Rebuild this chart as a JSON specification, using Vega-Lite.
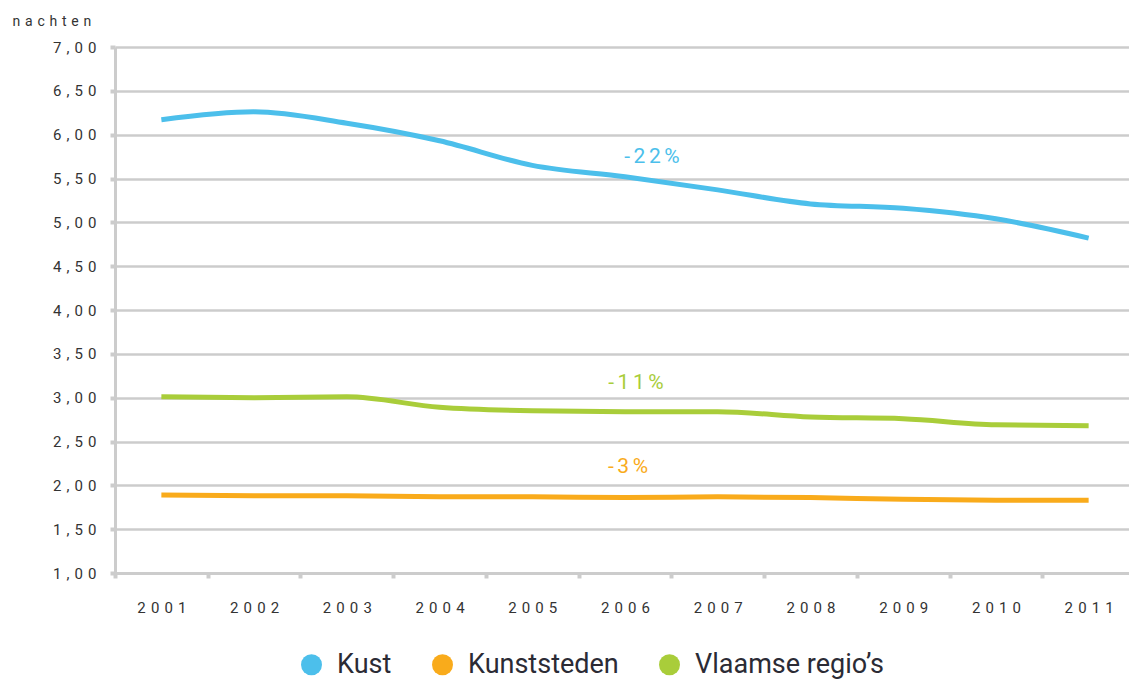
{
  "$schema": "https://vega.github.io/schema/vega-lite/v6.json",
  "width": 1020,
  "height": 526,
  "autosize": {"type": "none"},
  "padding": {"left": 115, "top": 47, "right": 0, "bottom": 106},
  "background": "white",
  "config": {"font": "Roboto", "view": {"stroke": null}},
  "datasets": {
    "series": [
      {"year": "2001", "region": "Kust", "value": 6.17},
      {"year": "2002", "region": "Kust", "value": 6.26},
      {"year": "2003", "region": "Kust", "value": 6.13},
      {"year": "2004", "region": "Kust", "value": 5.93},
      {"year": "2005", "region": "Kust", "value": 5.65},
      {"year": "2006", "region": "Kust", "value": 5.52},
      {"year": "2007", "region": "Kust", "value": 5.37},
      {"year": "2008", "region": "Kust", "value": 5.21},
      {"year": "2009", "region": "Kust", "value": 5.16},
      {"year": "2010", "region": "Kust", "value": 5.04},
      {"year": "2011", "region": "Kust", "value": 4.82},
      {"year": "2001", "region": "Kunststeden", "value": 1.89},
      {"year": "2002", "region": "Kunststeden", "value": 1.88},
      {"year": "2003", "region": "Kunststeden", "value": 1.88},
      {"year": "2004", "region": "Kunststeden", "value": 1.87},
      {"year": "2005", "region": "Kunststeden", "value": 1.87},
      {"year": "2006", "region": "Kunststeden", "value": 1.86},
      {"year": "2007", "region": "Kunststeden", "value": 1.87},
      {"year": "2008", "region": "Kunststeden", "value": 1.86},
      {"year": "2009", "region": "Kunststeden", "value": 1.84},
      {"year": "2010", "region": "Kunststeden", "value": 1.83},
      {"year": "2011", "region": "Kunststeden", "value": 1.83},
      {"year": "2001", "region": "Vlaamse regio’s", "value": 3.01},
      {"year": "2002", "region": "Vlaamse regio’s", "value": 3.0},
      {"year": "2003", "region": "Vlaamse regio’s", "value": 3.01},
      {"year": "2004", "region": "Vlaamse regio’s", "value": 2.89},
      {"year": "2005", "region": "Vlaamse regio’s", "value": 2.85},
      {"year": "2006", "region": "Vlaamse regio’s", "value": 2.84},
      {"year": "2007", "region": "Vlaamse regio’s", "value": 2.84},
      {"year": "2008", "region": "Vlaamse regio’s", "value": 2.78},
      {"year": "2009", "region": "Vlaamse regio’s", "value": 2.76},
      {"year": "2010", "region": "Vlaamse regio’s", "value": 2.69},
      {"year": "2011", "region": "Vlaamse regio’s", "value": 2.68}
    ],
    "labels": [
      {"year": "2006", "region": "Kust", "value": 5.745, "label": "-22%"},
      {"year": "2006", "region": "Vlaamse regio’s", "value": 3.17, "label": "-11%"},
      {"year": "2006", "region": "Kunststeden", "value": 2.21, "label": "-3%"}
    ]
  },
  "encoding": {
    "x": {
      "field": "year",
      "type": "ordinal",
      "scale": {"type": "band", "paddingInner": 0, "paddingOuter": 0},
      "axis": {
        "title": null,
        "labelExpr": "join(split(datum.label, ''), '\u2004')",
        "labelAngle": 0,
        "tickBand": "extent",
        "domain": true,
        "domainColor": "#cccccc",
        "domainWidth": 3,
        "ticks": true,
        "tickColor": "#cccccc",
        "tickWidth": 4,
        "tickSize": 5,
        "labelFontSize": 15,
        "labelColor": "#333333",
        "labelPadding": 22,
        "grid": false
      }
    },
    "y": {
      "field": "value",
      "type": "quantitative",
      "scale": {"domain": [1, 7], "nice": false, "zero": false},
      "axis": {
        "values": [1, 1.5, 2, 2.5, 3, 3.5, 4, 4.5, 5, 5.5, 6, 6.5, 7],
        "labelExpr": "join(split(replace(format(datum.value, '.2f'), '.', ','), ''), '\u2004')",
        "grid": true,
        "gridColor": "#cccccc",
        "gridWidth": 2.5,
        "domain": true,
        "domainColor": "#cccccc",
        "domainWidth": 3,
        "ticks": true,
        "tickColor": "#cccccc",
        "tickSize": 5,
        "tickWidth": 4,
        "labelFontSize": 15,
        "labelColor": "#333333",
        "labelPadding": 14,
        "title": "n\u2004a\u2004c\u2004h\u2004t\u2004e\u2004n",
        "titleAngle": 0,
        "titleAlign": "left",
        "titleBaseline": "middle",
        "titleX": -103,
        "titleY": -26,
        "titleFontWeight": "normal",
        "titleFontSize": 14,
        "titleColor": "#333333"
      }
    },
    "color": {
      "field": "region",
      "type": "nominal",
      "scale": {
        "domain": ["Kust", "Kunststeden", "Vlaamse regio’s"],
        "range": ["#4cbfeb", "#f9ab1b", "#a9cd3a"]
      },
      "legend": {
        "title": null,
        "orient": "none",
        "direction": "horizontal",
        "legendX": 183,
        "legendY": 604,
        "symbolType": "circle",
        "symbolSize": 441,
        "symbolStrokeWidth": 0,
        "labelFontSize": 27,
        "labelLimit": 0,
        "labelColor": "#2b2b35",
        "labelOffset": 12,
        "columnPadding": 37,
        "encode": {
          "symbols": {"update": {"fill": {"scale": "color", "field": "value"}, "fillOpacity": {"value": 1}, "strokeWidth": {"value": 0}}}
        }
      }
    }
  },
  "layer": [
    {
      "data": {"name": "series"},
      "mark": {"type": "line", "strokeWidth": 5, "interpolate": "monotone"}
    },
    {
      "data": {"name": "labels"},
      "transform": [
        {"filter": "datum.region === 'Kust'"},
        {"calculate": "join(split(datum.label, ''), '\u2006')", "as": "shown"}
      ],
      "mark": {"type": "text", "fontSize": 21, "dx": 27, "baseline": "middle", "align": "center"},
      "encoding": {"text": {"field": "shown"}}
    },
    {
      "data": {"name": "labels"},
      "transform": [
        {"filter": "datum.region === 'Vlaamse regio’s'"},
        {"calculate": "join(split(datum.label, ''), '\u2006')", "as": "shown"}
      ],
      "mark": {"type": "text", "fontSize": 21, "dx": 11, "baseline": "middle", "align": "center"},
      "encoding": {"text": {"field": "shown"}}
    },
    {
      "data": {"name": "labels"},
      "transform": [
        {"filter": "datum.region === 'Kunststeden'"},
        {"calculate": "join(split(datum.label, ''), '\u2006')", "as": "shown"}
      ],
      "mark": {"type": "text", "fontSize": 21, "dx": 3, "baseline": "middle", "align": "center"},
      "encoding": {"text": {"field": "shown"}}
    }
  ]
}
